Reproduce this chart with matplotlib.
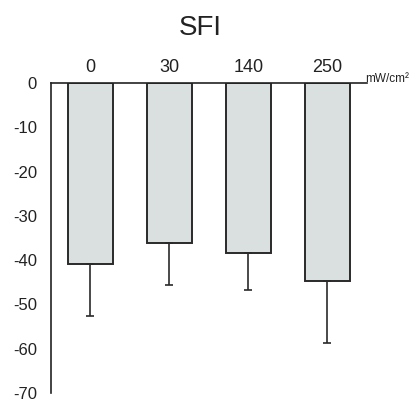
import matplotlib.pyplot as plt
import numpy as np

plt.rcParams['font.family'] = ['Liberation Sans', 'DejaVu Sans']

doses = ['0', '30', '140', '250']
sfi_mean = [-40.9, -36.1, -38.4, -44.8]
sfi_err = [11.7, 9.6, 8.3, 14.0]

fig = plt.figure(figsize=(4.13, 4.0), dpi=100)
ax = fig.add_axes([0.1235, 0.0175, 0.765, 0.775])

x = np.arange(len(doses))
lower = np.array(sfi_err)
upper = np.zeros(len(doses))
ax.bar(x, sfi_mean, width=0.56, color='#dadfdf', edgecolor='#2a2a2a', linewidth=1.4,
       yerr=[lower, upper], capsize=3.2,
       error_kw=dict(ecolor='#2a2a2a', elinewidth=1.2, capthick=1.2))

ax.set_xlim(-0.5, 3.5)
ax.set_ylim(-70, 0)
ax.set_yticks(range(0, -71, -10))
ax.set_yticklabels([str(v) for v in range(0, -71, -10)], fontsize=12, color='#222222')
ax.set_xticks(x)
ax.set_xticklabels(doses, fontsize=13, color='#222222')
ax.xaxis.tick_top()
ax.tick_params(axis='both', length=0)
ax.tick_params(axis='y', pad=10)
ax.tick_params(axis='x', pad=5)

for s in ['right', 'bottom']:
    ax.spines[s].set_visible(False)
for s in ['top', 'left']:
    ax.spines[s].set_linewidth(1.2)
    ax.spines[s].set_color('#222222')

fig.text(0.884, 0.802, 'mW/cm²', fontsize=8.5, color='#222222', va='center', ha='left')
fig.text(0.484, 0.93, 'SFI', fontsize=20, color='#222222', ha='center', va='center')

fig.savefig('out.png', dpi=100)
